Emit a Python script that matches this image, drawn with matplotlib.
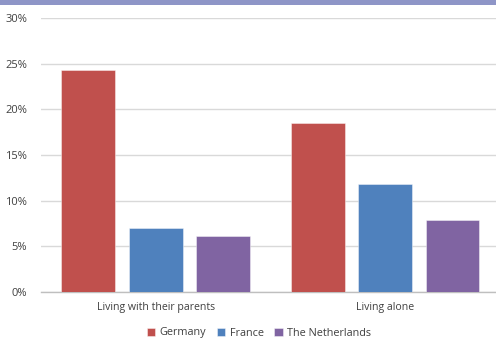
import matplotlib
matplotlib.use("Agg")
import matplotlib.pyplot as plt
from matplotlib.patches import Rectangle
import numpy as np

categories = ["Living with their parents", "Living alone"]
series_names = ["Germany", "France", "The Netherlands"]
germany = [24.3, 18.5]
france = [7.0, 11.8]
netherlands = [6.1, 7.9]
colors = ["#C0504D", "#4F81BD", "#8064A2"]
yticks = [0, 5, 10, 15, 20, 25, 30]

plt.rcParams["font.family"] = ["Open Sans", "DejaVu Sans"]

W, H = 496, 338
fig = plt.figure(figsize=(W / 100, H / 100), dpi=100)
fig.patch.set_facecolor("white")

# header strip along the top edge
fig.add_artist(Rectangle((0, 1 - 5 / H), 1, 5 / H, transform=fig.transFigure,
                         facecolor="#8E95C7", edgecolor="none"))

left, right = 41 / W, 1.0
bottom, top = 1 - 292 / H, 1 - 18 / H
ax = fig.add_axes([left, bottom, right - left, top - bottom])

x = np.arange(len(categories))
width = 0.235
offsets = [-0.294, 0.0, 0.294]
for vals, name, col, off in zip([germany, france, netherlands], series_names, colors, offsets):
    ax.bar(x + off, vals, width, color=col, label=name, zorder=3,
           edgecolor=(1, 1, 1, 0.5), linewidth=0.6)

ax.set_xlim(-0.5, 1.5 - 3.75 / 229.5)
ax.set_ylim(0, 30)
ax.set_yticks(yticks)
ax.set_yticklabels([f"{t}%" for t in yticks])
ax.yaxis.grid(True, color="#D9D9D9", linewidth=1.0, zorder=0)
ax.set_axisbelow(True)
for s in ["top", "right", "left"]:
    ax.spines[s].set_visible(False)
ax.spines["bottom"].set_color("#BFBFBF")
ax.spines["bottom"].set_linewidth(1.0)
ax.tick_params(axis="both", length=0, colors="#404040")
ax.tick_params(axis="y", pad=10, labelsize=8)
ax.tick_params(axis="x", pad=7, labelsize=7.6)
ax.set_xticks(x)
ax.set_xticklabels(categories)

fig.legend(loc="center", bbox_to_anchor=(259 / W, 1 - 333 / H), ncol=3, frameon=False,
           fontsize=7.8, handlelength=0.75, handleheight=0.75, handletextpad=0.4,
           columnspacing=1.0, labelcolor="#404040")

fig.savefig("out.png", dpi=100)
